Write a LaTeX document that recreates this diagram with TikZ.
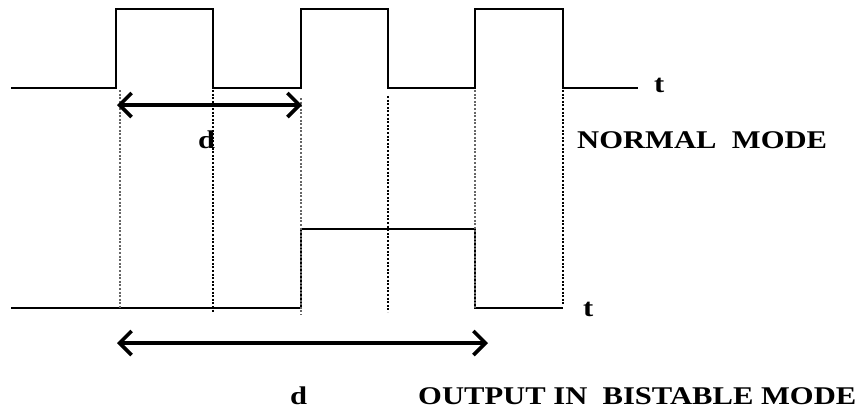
\documentclass[tikz,border=0pt]{standalone}
\usepackage{fontspec}
\setmainfont{Liberation Serif}[FakeStretch=1.2]
\usetikzlibrary{arrows.meta}

\begin{document}
\begin{tikzpicture}[x=1pt, y=-1pt,
        signal/.style={line width=1.5pt, line join=miter},
        guide/.style={line width=2pt, dash pattern=on 2pt off 1.6pt},
        span/.style={line width=3.6pt, {Straight Barb[length=12pt, width=24pt, line width=3.6pt]}-{Straight Barb[length=12pt, width=24pt, line width=3.6pt]}},
        label/.style={font=\fontsize{25.5}{28}\selectfont\bfseries, inner sep=0pt, anchor=base west}
    ]
    \useasboundingbox (0,0) rectangle (860,410);

    % input pulses (normal mode)
    \draw[signal] (11,88) -- (116,88) -- (116,9) -- (213,9) -- (213,88)
        -- (301,88) -- (301,9) -- (388,9) -- (388,88)
        -- (475,88) -- (475,9) -- (563,9) -- (563,88) -- (638,88);
    \node[label] (tnorm) at (654,92) {t};
    \node[label] (normal) at (577,148) {NORMAL\ \ MODE};

    % output (bistable mode)
    \draw[signal] (11,308) -- (301,308) -- (301,229) -- (475,229) -- (475,308) -- (563,308);
    \node[label] (tbist) at (583,316) {t};

    % guide lines
    \draw[guide, black!60] (119.5,90) -- (119.5,309);
    \draw[guide] (213,90) -- (213,312);
    \draw[guide, black!60] (301,98) -- (301,315);
    \draw[guide] (388,96) -- (388,312);
    \draw[guide, black!60] (475,90) -- (475,309);
    \draw[guide] (563,90) -- (563,305);

    % periods
    \coordinate (a1) at (117,105);
    \coordinate (b1) at (302,105);
    \draw[span] (a1) -- (b1);
    \node[label] (d1) at (198,148) {d};

    \coordinate (a2) at (117,343);
    \coordinate (b2) at (488,343);
    \draw[span] (a2) -- (b2);
    \node[label] (d2) at (290,404) {d};
    \node[label] (bist) at (418,404) {OUTPUT IN\ \ BISTABLE MODE};
\end{tikzpicture}
\end{document}
